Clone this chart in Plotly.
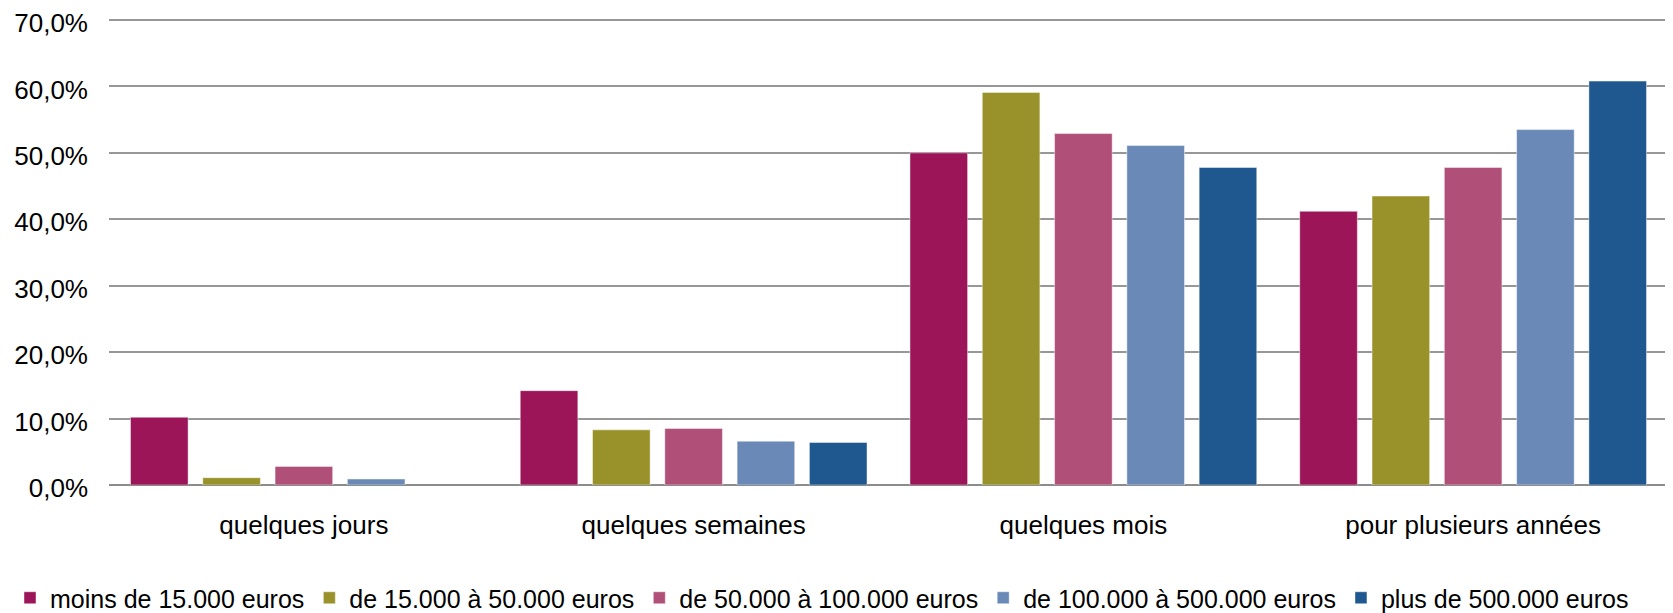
import plotly.graph_objects as go

categories = ["quelques jours", "quelques semaines", "quelques mois", "pour plusieurs années"]
series_names = [
    "moins de 15.000 euros",
    "de 15.000 à 50.000 euros",
    "de 50.000 à 100.000 euros",
    "de 100.000 à 500.000 euros",
    "plus de 500.000 euros",
]
moins_15000 = [10.2, 14.2, 50.0, 41.2]
de_15000_50000 = [1.1, 8.3, 59.1, 43.5]
de_50000_100000 = [2.8, 8.5, 52.9, 47.8]
de_100000_500000 = [0.9, 6.6, 51.1, 53.5]
plus_500000 = [None, 6.4, 47.8, 60.8]
colors = ["#9B1558", "#99922A", "#B04F78", "#6A89B7", "#1F578F"]
y_ticks = [0, 10, 20, 30, 40, 50, 60, 70]
y_tick_labels = [f"{v:.1f}".replace(".", ",") + "%" for v in y_ticks]

all_values = [moins_15000, de_15000_50000, de_50000_100000, de_100000_500000, plus_500000]

fig = go.Figure()
for name, vals, col in zip(series_names, all_values, colors):
    fig.add_trace(go.Bar(
        x=categories, y=vals, name=name,
        marker=dict(color=col, line=dict(color="rgba(255,255,255,0.45)", width=1)),
    ))

font_family = "Liberation Sans, Arial, sans-serif"
# the page body adds an 8px offset, so the figure is drawn 8px smaller
W, H = 1665, 605
L, R, T, B = 101, 5, 10, 128
plot_h = H - T - B
fig.update_layout(
    width=W, height=H,
    margin=dict(l=L, r=R, t=T, b=B, autoexpand=False),
    paper_bgcolor="white", plot_bgcolor="white",
    barmode="group", bargap=0.0726, bargroupgap=0.203,
    font=dict(family=font_family, size=26, color="#000"),
    showlegend=True,
    legend=dict(
        orientation="h", xref="paper", yref="paper",
        x=(2 - L) / (W - L - R), xanchor="left",
        y=((H - B) - 590) / plot_h, yanchor="middle",
        font=dict(size=25), itemwidth=30, tracegroupgap=0,
    ),
    xaxis=dict(
        showgrid=False, showline=False, ticks="", automargin=False,
        ticklabelstandoff=22, tickfont=dict(size=26),
    ),
    yaxis=dict(
        range=[0, 70.3], tickvals=y_ticks, ticktext=y_tick_labels,
        showgrid=True, gridcolor="#979797", gridwidth=2,
        zeroline=True, zerolinecolor="#8c8c8c", zerolinewidth=2,
        showline=False, ticks="", automargin=False, ticklabeloverflow="allow",
        ticklabelstandoff=20, ticklabelshift=3, tickfont=dict(size=26),
    ),
)

fig.write_html("out.html")
